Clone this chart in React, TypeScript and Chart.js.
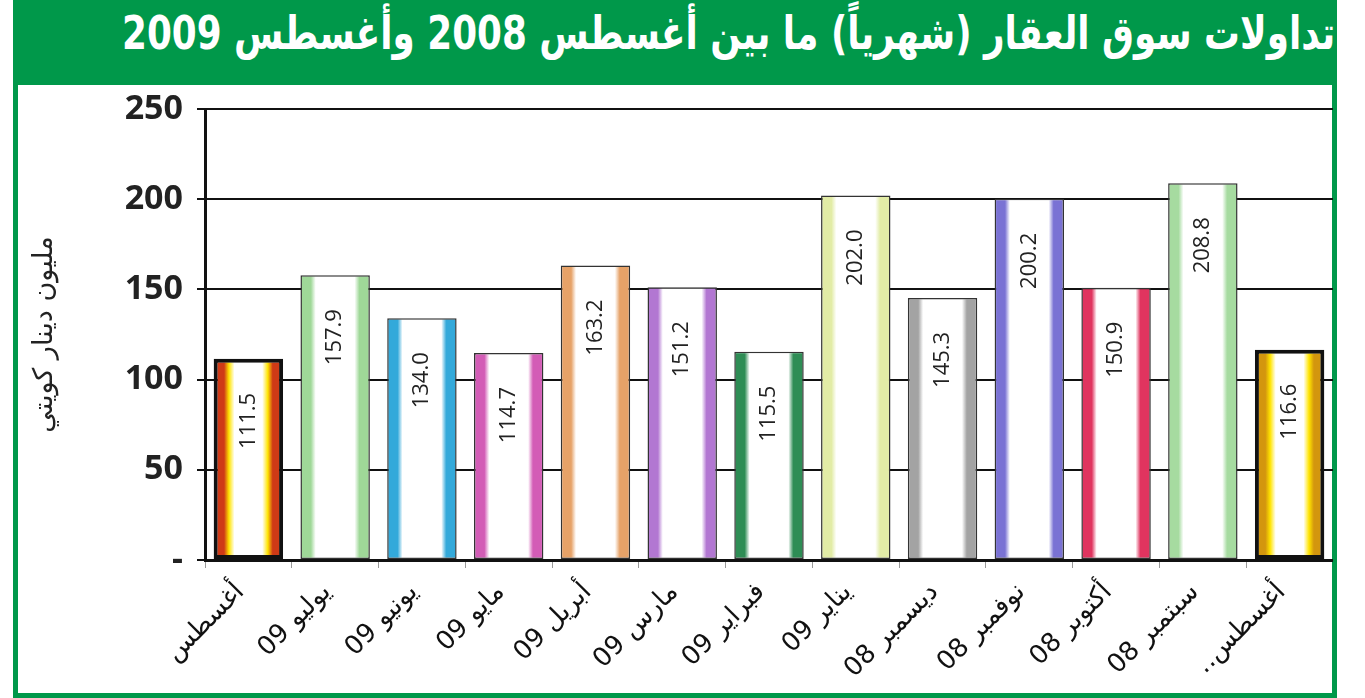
import React, { useEffect, useLayoutEffect, useRef } from "react";
import { Chart, registerables } from "chart.js";

Chart.register(...registerables);

const titleText = "تداولات سوق العقار (شهرياً) ما بين أغسطس 2008 وأغسطس 2009";
const yAxisTitle = "مليون دينار كويتي";

const categories = [
  "أغسطس",
  "يوليو 09",
  "يونيو 09",
  "مايو 09",
  "أبريل 09",
  "مارس 09",
  "فبراير 09",
  "يناير 09",
  "ديسمبر 08",
  "نوفمبر 08",
  "أكتوبر 08",
  "سبتمبر 08",
  "أغسطس..",
];

const values = [111.5, 157.9, 134.0, 114.7, 163.2, 151.2, 115.5, 202.0, 145.3, 200.2, 150.9, 208.8, 116.6];

const edgeColors = [
  "#cf3a16", "#9fd898", "#33a9da", "#d35cb6", "#e6a268", "#b277d2", "#2e8d55",
  "#e2eca6", "#a3a3a3", "#7a72d4", "#e0345f", "#a6dba0", "#d3960e",
];
const midColors = [
  "#ffe400", "#ffffff", "#ffffff", "#ffffff", "#ffffff", "#ffffff", "#ffffff",
  "#ffffff", "#ffffff", "#ffffff", "#ffffff", "#ffffff", "#ffe400",
];
const borderWidths = [4, 1.5, 1.5, 1.5, 1.5, 1.5, 1.5, 1.5, 1.5, 1.5, 1.5, 1.5, 4];
const borderColors = ["#111", "#333", "#333", "#333", "#333", "#333", "#333", "#333", "#333", "#333", "#333", "#333", "#111"];

const yMin = 0;
const yMax = 250;
const yStep = 50;

const BAR_PCT = 0.8;

const rtl = (s: string) => "\u202B" + s + "\u202C";

const valueLabelPlugin = {
  id: "valueLabels",
  afterDatasetsDraw(chart: any) {
    const meta = chart.getDatasetMeta(0);
    const ctx = chart.ctx;
    ctx.save();
    ctx.font = "22px 'Open Sans'";
    ctx.fillStyle = "#222";
    ctx.textAlign = "center";
    ctx.textBaseline = "middle";
    meta.data.forEach((el: any, i: number) => {
      ctx.save();
      ctx.translate(el.x, el.y + 62);
      ctx.rotate(-Math.PI / 2);
      ctx.fillText(values[i].toFixed(1), 0, 0);
      ctx.restore();
    });
    ctx.restore();
  },
};

export default function App() {
  const canvasRef = useRef<HTMLCanvasElement | null>(null);
  const titleRef = useRef<HTMLDivElement | null>(null);

  useLayoutEffect(() => {
    const el = titleRef.current;
    if (!el) return;
    el.style.transform = "none";
    const w = el.scrollWidth;
    const target = 1213;
    if (w > 0) el.style.transform = `scaleX(${target / w})`;
  }, []);

  useEffect(() => {
    if (!canvasRef.current) return;
    const chart = new Chart(canvasRef.current, {
      type: "bar",
      data: {
        labels: categories.map(rtl),
        datasets: [
          {
            data: values,
            backgroundColor: (c: any) => {
              const i = c.dataIndex ?? 0;
              const chart = c.chart;
              const xs = chart.scales && chart.scales.x;
              if (c.type !== "data" || !xs || !chart.chartArea) return edgeColors[i];
              const cx = xs.getPixelForValue(i);
              const w = (xs.width / categories.length) * BAR_PCT;
              const g = chart.ctx.createLinearGradient(cx - w / 2, 0, cx + w / 2, 0);
              const e = edgeColors[i];
              const m = midColors[i];
              g.addColorStop(0, e);
              g.addColorStop(0.15, e);
              g.addColorStop(0.22, m);
              g.addColorStop(0.3, "#ffffff");
              g.addColorStop(0.7, "#ffffff");
              g.addColorStop(0.78, m);
              g.addColorStop(0.85, e);
              g.addColorStop(1, e);
              return g;
            },
            borderColor: borderColors,
            borderWidth: borderWidths,
            borderSkipped: false,
            barPercentage: BAR_PCT,
            categoryPercentage: 1,
          },
        ],
      },
      options: {
        animation: false,
        responsive: false,
        maintainAspectRatio: false,
        layout: { padding: { top: 25, right: 0, left: 0, bottom: 0 } },
        plugins: {
          legend: { display: false },
          title: { display: false },
          tooltip: { enabled: false },
        },
        scales: {
          x: {
            offset: true,
            grid: {
              display: true,
              offset: true,
              drawOnChartArea: false,
              drawTicks: true,
              tickLength: 8,
              color: "#999",
              lineWidth: 1,
            },
            border: { display: true, color: "#111", width: 3 },
            ticks: {
              autoSkip: false,
              maxRotation: 45,
              minRotation: 45,
              padding: 9,
              labelOffset: -8,
              color: "#111",
              font: { family: "'DejaVu Sans'", size: 26 },
            },
            afterFit: (s: any) => {
              s.height = 134;
              s.paddingLeft = 0;
              s.paddingRight = 0;
            },
          },
          y: {
            min: yMin,
            max: yMax,
            ticks: {
              stepSize: yStep,
              padding: 14,
              color: "#222",
              font: { family: "'Open Sans'", size: 34, weight: "bold" },
              callback: (v: any) => (Number(v) === 0 ? "-" : String(v)),
            },
            grid: { color: "#111", lineWidth: 2, tickLength: 8 },
            border: { display: true, color: "#111", width: 3 },
            title: {
              display: true,
              text: yAxisTitle,
              color: "#222",
              font: { family: "'DejaVu Sans'", size: 27 },
              padding: { top: 11, bottom: 0 },
            },
            afterFit: (s: any) => {
              s.width = 187;
              s.paddingTop = 0;
              s.paddingBottom = 0;
            },
          },
        },
      },
      plugins: [valueLabelPlugin],
    });
    return () => chart.destroy();
  }, []);

  return (
    <div
      style={{
        position: "absolute",
        left: 0,
        top: 0,
        width: 1365,
        height: 698,
        background: "#ffffff",
        overflow: "hidden",
      }}
    >
      <div
        style={{
          position: "absolute",
          left: 13,
          top: 0,
          width: 1324,
          height: 84,
          background: "#00984a",
        }}
      />
      <div
        style={{
          position: "absolute",
          left: 13,
          top: 80,
          width: 1324,
          height: 618,
          border: "5px solid #00984a",
          boxSizing: "border-box",
        }}
      />
      <div
        style={{
          position: "absolute",
          right: 30,
          top: 2,
          height: 62,
          display: "flex",
          alignItems: "center",
        }}
      >
        <div
          ref={titleRef}
          dir="rtl"
          style={{
            whiteSpace: "nowrap",
            color: "#ffffff",
            fontFamily: "'DejaVu Sans', sans-serif",
            fontWeight: "bold",
            fontSize: 46,
            lineHeight: "62px",
            transformOrigin: "right center",
          }}
        >
          {titleText}
        </div>
      </div>
      <canvas
        ref={canvasRef}
        width={1315}
        height={610}
        style={{ position: "absolute", left: 18, top: 84, width: 1315, height: 610 }}
      />
    </div>
  );
}
